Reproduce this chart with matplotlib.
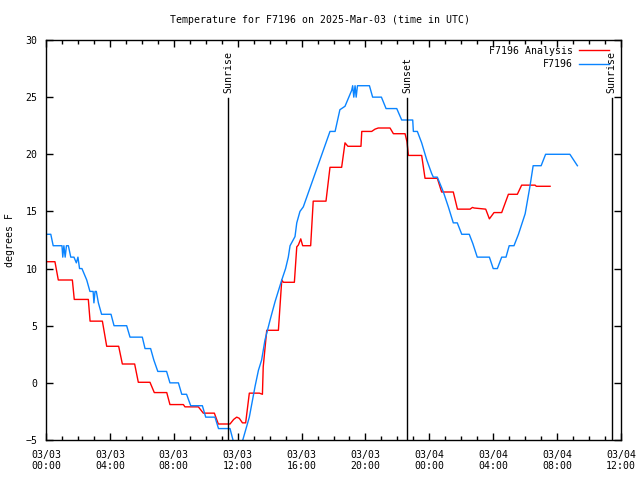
import matplotlib
matplotlib.use('Agg')
from matplotlib import pyplot as plt
import numpy as np

plt.rcParams['font.family'] = ['DejaVu Sans Mono']
plt.rcParams['font.size'] = 7.15

# hours after 2025-03-03 00:00 UTC
obs_hours = [0.0, 0.3, 0.45, 1.0, 1.05, 1.12, 1.2, 1.28, 1.4, 1.55, 1.75, 1.9, 2.0, 2.1,
             2.25, 2.55, 2.75, 2.95, 3.0, 3.07, 3.15, 3.28, 3.48, 4.07, 4.26, 5.05, 5.26,
             6.03, 6.2, 6.55, 6.75, 7.0, 7.55, 7.76, 8.29, 8.5, 8.8, 9.06, 9.79, 10.0,
             10.58, 10.8, 11.52, 11.8, 12.0, 12.2, 12.32, 12.73, 13.09, 13.3, 13.5, 13.71,
             14.03, 14.34, 14.76, 15.0, 15.17, 15.28, 15.59, 15.7, 15.9, 16.11, 17.78,
             18.1, 18.4, 18.72, 19.14, 19.2, 19.27, 19.35, 19.42, 19.5, 20.25, 20.45,
             21.0, 21.29, 21.96, 22.27, 22.96, 23.0, 23.25, 23.52, 23.84, 24.15, 24.25,
             24.5, 24.88, 25.19, 25.5, 25.75, 26.03, 26.5, 26.72, 27.0, 27.76, 28.0,
             28.26, 28.53, 28.8, 29.0, 29.3, 29.58, 30.0, 30.3, 30.5, 31.0, 31.28, 32.8,
             33.27]
obs_temp = [13, 13, 12, 12, 11, 12, 11, 12, 12, 11, 11, 10.5, 11, 10,
            10, 9, 8, 8, 7, 8, 8, 7, 6, 6, 5, 5, 4,
            4, 3, 3, 2, 1, 1, 0, 0, -1, -1, -2, -2, -3,
            -3, -4, -4, -5.5, -6, -5.5, -5, -3, -0.3, 1.1, 2, 3.75,
            5.5, 7.1, 9, 10, 11, 12, 12.8, 14, 15, 15.4, 22,
            22, 23.9, 24.2, 25.6, 26, 25, 26, 25, 26, 26, 25,
            25, 24, 24, 23, 23, 22, 22, 21, 19.5, 18.3, 18,
            18, 16.7, 15.4, 14, 14, 13, 13, 12.2, 11, 11, 10,
            10, 11, 11, 12, 12, 13, 14.8, 17.2, 19, 19, 20, 20,
            19]

ana_hours = [0.0, 0.56, 0.77, 1.65, 1.77, 2.65, 2.76, 3.53, 3.8, 4.55, 4.78, 5.55, 5.78,
             6.51, 6.78, 7.56, 7.76, 8.6, 8.7, 9.54, 9.85, 10.54, 10.79, 11.52, 11.75,
             11.94, 12.1, 12.3, 12.5, 12.73, 13.36, 13.55, 13.6, 13.82, 14.55, 14.65,
             14.76, 14.86, 15.55, 15.7, 15.8, 15.95, 16.07, 16.57, 16.73, 17.53, 17.78,
             18.51, 18.72, 18.9, 19.72, 19.77, 20.39, 20.6, 20.8, 21.54, 21.75, 22.48,
             22.6, 22.69, 23.52, 23.73, 24.5, 24.77, 25.5, 25.76, 26.55, 26.7, 26.8,
             27.53, 27.76, 28.05, 28.53, 28.95, 29.51, 29.78, 30.62, 30.7, 31.56]
ana_temp = [10.6, 10.6, 9, 9, 7.3, 7.3, 5.4, 5.4, 3.2, 3.2, 1.65, 1.65, 0.05,
            0.05, -0.85, -0.85, -1.9, -1.9, -2.1, -2.1, -2.65, -2.65, -3.6, -3.6, -3.2,
            -3.0, -3.1, -3.5, -3.5, -0.9, -0.9, -1.0, 1.4, 4.6, 4.6, 6.7,
            9.0, 8.8, 8.8, 11.9, 12.06, 12.6, 12.0, 12.0, 15.9, 15.9, 18.86,
            18.86, 21.0, 20.7, 20.7, 22.0, 22.0, 22.2, 22.3, 22.3, 21.8, 21.8,
            21.1, 19.9, 19.9, 17.9, 17.9, 16.7, 16.7, 15.2, 15.2, 15.35, 15.3,
            15.2, 14.35, 14.9, 14.9, 16.5, 16.5, 17.3, 17.3, 17.2, 17.2]

sun_hours = [11.4, 22.6, 35.42]
sun_labels = ['Sunrise', 'Sunset', 'Sunrise']

tick_hours = [0, 4, 8, 12, 16, 20, 24, 28, 32, 36]
tick_labels = ['03/03\n00:00', '03/03\n04:00', '03/03\n08:00', '03/03\n12:00',
               '03/03\n16:00', '03/03\n20:00', '03/04\n00:00', '03/04\n04:00',
               '03/04\n08:00', '03/04\n12:00']

fig = plt.figure(figsize=(6.4, 4.8), dpi=100)
ax = fig.add_axes([46 / 640, 40 / 480, 575 / 640, 400 / 480])

ax.plot(ana_hours, ana_temp, color='#ff0000', lw=1.0, label='F7196 Analysis')
ax.plot(obs_hours, obs_temp, color='#0a84ff', lw=1.0, label='F7196')

for h, lab in zip(sun_hours, sun_labels):
    ax.plot([h, h], [-5, 24.9], color='black', lw=1.0)
    ax.text(h, 25.4, lab, rotation=90, ha='center', va='bottom')

ax.set_xlim(0, 36)
ax.set_ylim(-5, 30)
ax.set_xticks(tick_hours)
ax.set_xticklabels(tick_labels)
ax.set_xticks(np.arange(0, 37, 1), minor=True)
ax.set_yticks(np.arange(-5, 31, 5))
ax.tick_params(direction='in', top=True, right=True, length=5, width=1, pad=6)
ax.tick_params(which='minor', direction='in', top=True, length=3, width=1)
ax.tick_params(axis='x', pad=7)
for s in ax.spines.values():
    s.set_linewidth(1.0)

fig.text(10 / 640, 0.5, 'degrees F', rotation=90, ha='center', va='center')
fig.text(0.5, 1 - 20 / 480, 'Temperature for F7196 on 2025-Mar-03 (time in UTC)',
         ha='center', va='center')

ax.legend(loc='upper right', markerfirst=False, frameon=False, handlelength=3.0,
          handletextpad=0.6, labelspacing=0.35, borderaxespad=0.2, borderpad=0.4,
          bbox_to_anchor=(1 - 6 / 575, 1))

fig.savefig('out.png', dpi=100)
